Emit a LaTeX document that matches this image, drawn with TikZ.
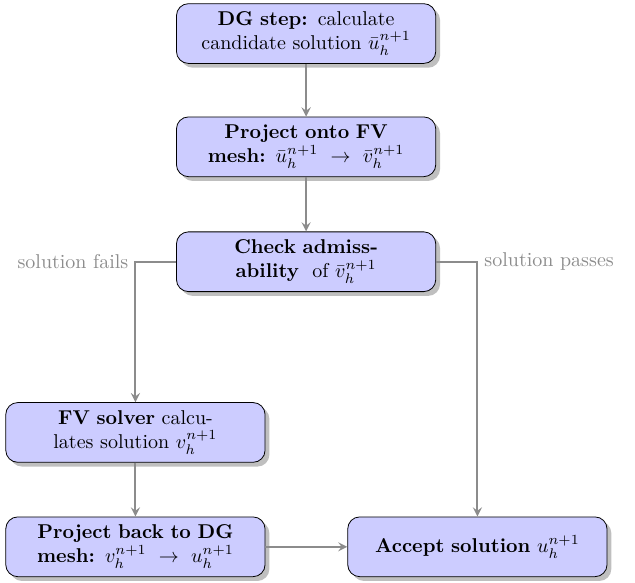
\documentclass[tikz,border=0pt]{standalone}
\usepackage{amsmath}
\usetikzlibrary{shadows}
\tikzset{
  stepbox/.style={rectangle, rounded corners=6pt, draw=black, fill=blue!20,
    drop shadow, text width=123pt, minimum height=1.05cm, align=center},
  flow/.style={draw=black!45, line width=1pt, -stealth},
  note/.style={text=black!45}
}
\begin{document}
\begin{tikzpicture}
		\useasboundingbox (0,0) rectangle (11.16,-10.23);
		% passi del metodo
		\node[stepbox] (dg) at (5.38,-0.59) {\textbf{DG step:} calculate\\ candidate solution $\bar{u}_h^{n+1}$};
		\node[stepbox] (proj) at (5.38,-2.58) {\textbf{Project onto FV}\\ \textbf{mesh:} $\bar{u}_h^{n+1}\,\rightarrow\,\bar{v}_h^{n+1}$};
		\node[stepbox] (check) at (5.38,-4.60) {\textbf{Check admiss-}\\ \textbf{ability}\ \ of $\bar{v}_h^{n+1}$};
		\node[stepbox] (fv) at (2.38,-7.60) {\textbf{FV solver} calcu-\\ lates solution $v_h^{n+1}$};
		\node[stepbox] (back) at (2.38,-9.61) {\textbf{Project back to DG}\\ \textbf{mesh:} $v_h^{n+1}\,\rightarrow\,u_h^{n+1}$};
		\node[stepbox] (accept) at (8.39,-9.61) {\textbf{Accept solution} $u_h^{n+1}$};

		% frecce
		\draw[flow] (dg) -- (proj);
		\draw[flow] (proj) -- (check);
		\draw[flow] (check.west) -| (fv.north);
		\draw[flow] (check.east) -| (accept.north);
		\draw[flow] (fv) -- (back);
		\draw[flow] (back) -- (accept);

		% etichette
		\node[note, left] (fails) at (fv.north |- check.west) {solution fails};
		\node[note, right] (passes) at (accept.north |- check.east) {solution passes};
	\end{tikzpicture}
\end{document}
